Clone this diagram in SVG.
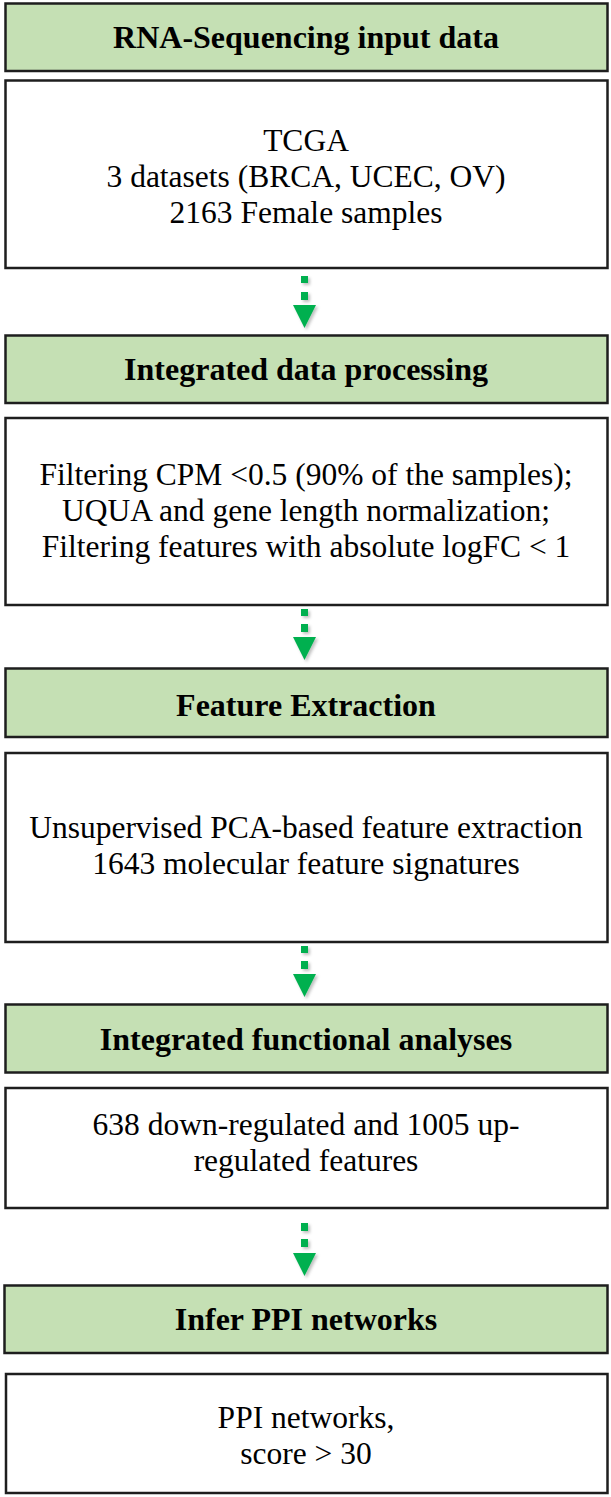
<svg xmlns="http://www.w3.org/2000/svg" width="611" height="1497" viewBox="0 0 611 1497">
<style>
.hdr{fill:#c5e0b4;stroke:#1e1e1e;stroke-width:2.5}
.box{fill:#ffffff;stroke:#1e1e1e;stroke-width:2.5}
.ht{font-family:"Liberation Serif","Times New Roman",serif;font-weight:bold;font-size:32px;fill:#000;text-anchor:middle}
.bt{font-family:"Liberation Serif","Times New Roman",serif;font-size:31.5px;fill:#000;text-anchor:middle}
.arr{fill:#00b050}
</style>
<defs>
<filter id="sh" x="-50%" y="-50%" width="200%" height="200%">
<feDropShadow dx="2" dy="2" stdDeviation="1.5" flood-color="#000" flood-opacity="0.25"/>
</filter>
</defs>
<rect width="611" height="1497" fill="#ffffff"/>
<g id="connectors" filter="url(#sh)">
<g id="arrow1" class="arr"><rect x="301" y="276" width="7" height="7"/><rect x="301" y="292" width="7" height="8"/><polygon points="293,305 316,305 304.5,328"/></g>
<g id="arrow2" class="arr"><rect x="301" y="609" width="7" height="7"/><rect x="301" y="624" width="7" height="8"/><polygon points="293,637 316,637 304.5,660"/></g>
<g id="arrow3" class="arr"><rect x="301" y="946" width="7" height="7"/><rect x="301" y="961" width="7" height="8"/><polygon points="293,974 316,974 304.5,997"/></g>
<g id="arrow4" class="arr"><rect x="301" y="1223" width="7" height="8"/><rect x="301" y="1239" width="7" height="8"/><polygon points="293,1253 316,1253 304.5,1276"/></g>
</g>
<g id="h1"><rect class="hdr" x="5.5" y="3.5" width="602" height="67.5"/><text class="ht" x="306" y="48">RNA-Sequencing input data</text></g>
<g id="b1"><rect class="box" x="5.5" y="80.5" width="602" height="187.5"/><text class="bt" x="306" y="151">TCGA</text><text class="bt" x="306" y="187">3 datasets (BRCA, UCEC, OV)</text><text class="bt" x="306" y="223">2163 Female samples</text></g>
<g id="h2"><rect class="hdr" x="5.5" y="335.5" width="602" height="67.5"/><text class="ht" x="306" y="380">Integrated data processing</text></g>
<g id="b2"><rect class="box" x="5.5" y="418" width="602" height="187"/><text class="bt" x="306" y="485">Filtering CPM &lt;0.5 (90% of the samples);</text><text class="bt" x="306" y="521">UQUA and gene length normalization;</text><text class="bt" x="306" y="557">Filtering features with absolute logFC &lt; 1</text></g>
<g id="h3"><rect class="hdr" x="5.5" y="668.5" width="602" height="68.5"/><text class="ht" x="306" y="716">Feature Extraction</text></g>
<g id="b3"><rect class="box" x="5.5" y="753" width="602" height="189"/><text class="bt" x="306" y="838">Unsupervised PCA-based feature extraction</text><text class="bt" x="306" y="874">1643 molecular feature signatures</text></g>
<g id="h4"><rect class="hdr" x="5.5" y="1004.5" width="602" height="68"/><text class="ht" x="306" y="1050">Integrated functional analyses</text></g>
<g id="b4"><rect class="box" x="5.5" y="1088" width="602" height="120"/><text class="bt" x="306" y="1135">638 down-regulated and 1005 up-</text><text class="bt" x="306" y="1171">regulated features</text></g>
<g id="h5"><rect class="hdr" x="4.5" y="1285.5" width="603" height="67.5"/><text class="ht" x="306" y="1330">Infer PPI networks</text></g>
<g id="b5"><rect class="box" x="6" y="1374" width="601.5" height="119"/><text class="bt" x="306" y="1428">PPI networks,</text><text class="bt" x="306" y="1464">score &gt; 30</text></g>
</svg>
